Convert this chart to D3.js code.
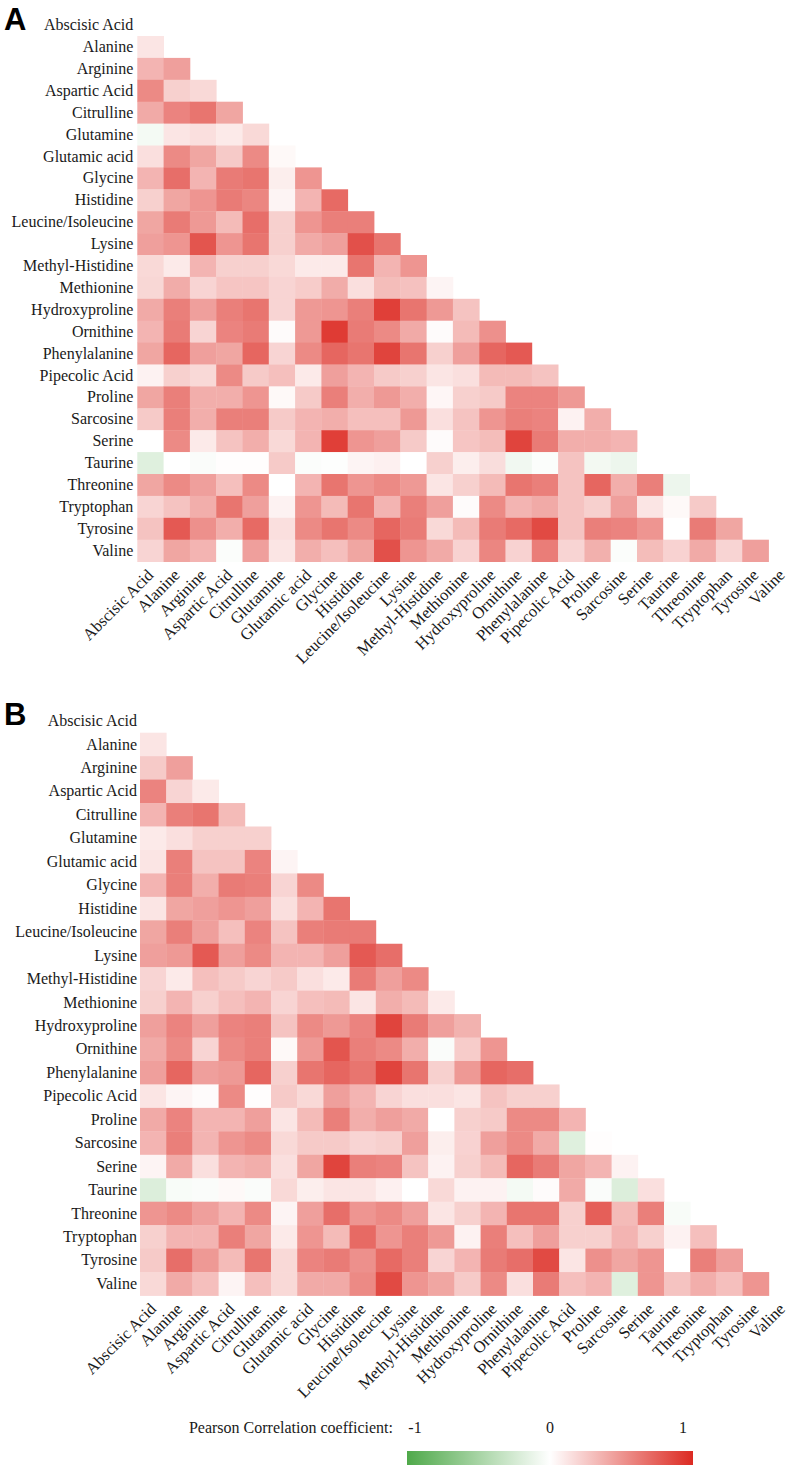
<!DOCTYPE html>
<html><head><meta charset="utf-8">
<script src="https://cdn.jsdelivr.net/npm/d3@7"></script>
<style>
body{margin:0;background:#fff}
svg{display:block}
svg text.serif, svg .serif text{font-family:"Liberation Serif", serif !important;}
</style>
</head><body><svg id="chart" width="789" height="1470"></svg>
<script>
const metabolites = ["Abscisic Acid","Alanine","Arginine","Aspartic Acid","Citrulline","Glutamine","Glutamic acid","Glycine","Histidine","Leucine/Isoleucine","Lysine","Methyl-Histidine","Methionine","Hydroxyproline","Ornithine","Phenylalanine","Pipecolic Acid","Proline","Sarcosine","Serine","Taurine","Threonine","Tryptophan","Tyrosine","Valine"];

// lower-triangle Pearson r, row i has columns 0..i-1
const corrA = [
  [],
  [0.12],
  [0.35,0.45],
  [0.55,0.22,0.18],
  [0.40,0.58,0.65,0.42],
  [-0.06,0.12,0.15,0.10,0.18],
  [0.15,0.55,0.42,0.25,0.55,0.03],
  [0.35,0.68,0.35,0.62,0.65,0.08,0.50],
  [0.22,0.42,0.50,0.62,0.57,0.05,0.35,0.70],
  [0.42,0.62,0.48,0.32,0.68,0.22,0.50,0.60,0.60],
  [0.45,0.50,0.80,0.50,0.65,0.22,0.40,0.45,0.82,0.65],
  [0.18,0.10,0.35,0.22,0.22,0.18,0.10,0.10,0.65,0.35,0.50],
  [0.19,0.39,0.20,0.27,0.27,0.20,0.24,0.39,0.15,0.31,0.29,0.05],
  [0.40,0.60,0.45,0.60,0.65,0.20,0.48,0.50,0.60,0.90,0.65,0.48,0.28],
  [0.35,0.62,0.20,0.58,0.62,0.02,0.48,0.92,0.62,0.55,0.40,0.02,0.32,0.52],
  [0.42,0.72,0.45,0.42,0.72,0.20,0.55,0.72,0.65,0.88,0.65,0.22,0.45,0.72,0.78],
  [0.06,0.22,0.18,0.55,0.25,0.30,0.10,0.45,0.35,0.25,0.22,0.12,0.15,0.32,0.32,0.28],
  [0.42,0.60,0.38,0.38,0.50,0.03,0.25,0.60,0.38,0.48,0.38,0.04,0.22,0.25,0.58,0.58,0.48],
  [0.25,0.60,0.38,0.60,0.60,0.25,0.35,0.38,0.30,0.30,0.48,0.15,0.28,0.50,0.60,0.58,0.06,0.38],
  [0.00,0.55,0.10,0.28,0.38,0.18,0.35,0.90,0.50,0.45,0.25,0.02,0.27,0.31,0.88,0.62,0.38,0.38,0.35],
  [-0.18,0.00,-0.03,0.01,0.01,0.25,-0.02,-0.01,0.05,0.07,0.00,0.22,0.08,0.16,-0.08,-0.02,0.28,-0.07,-0.10,0.00],
  [0.42,0.55,0.45,0.30,0.55,0.00,0.35,0.65,0.50,0.55,0.48,0.12,0.22,0.32,0.65,0.60,0.28,0.72,0.38,0.60,-0.10],
  [0.20,0.28,0.38,0.65,0.45,0.06,0.50,0.32,0.65,0.35,0.60,0.45,0.02,0.55,0.35,0.40,0.28,0.22,0.45,0.12,0.03,0.25],
  [0.28,0.78,0.52,0.38,0.70,0.15,0.55,0.65,0.55,0.72,0.62,0.18,0.32,0.62,0.70,0.85,0.28,0.60,0.58,0.50,0.00,0.62,0.42],
  [0.20,0.42,0.35,-0.02,0.45,0.12,0.38,0.30,0.42,0.82,0.50,0.40,0.21,0.57,0.21,0.61,0.20,0.37,-0.02,0.31,0.21,0.40,0.20,0.45]
];

const corrB = [
  [],
  [0.12],
  [0.25,0.45],
  [0.58,0.20,0.10],
  [0.35,0.60,0.65,0.32],
  [0.10,0.15,0.22,0.22,0.22],
  [0.12,0.60,0.28,0.28,0.58,0.05],
  [0.35,0.60,0.38,0.62,0.60,0.20,0.55],
  [0.12,0.42,0.45,0.50,0.45,0.15,0.35,0.65],
  [0.42,0.60,0.45,0.30,0.58,0.28,0.60,0.62,0.62],
  [0.45,0.48,0.78,0.45,0.55,0.35,0.35,0.45,0.78,0.68],
  [0.20,0.10,0.30,0.25,0.20,0.25,0.15,0.10,0.62,0.45,0.55],
  [0.22,0.35,0.22,0.30,0.35,0.20,0.30,0.32,0.12,0.38,0.32,0.10],
  [0.45,0.58,0.45,0.58,0.60,0.28,0.55,0.48,0.58,0.88,0.62,0.45,0.36],
  [0.40,0.55,0.20,0.55,0.60,0.03,0.48,0.80,0.60,0.55,0.38,-0.03,0.24,0.50],
  [0.45,0.72,0.45,0.48,0.72,0.22,0.65,0.72,0.65,0.88,0.65,0.22,0.48,0.72,0.68],
  [0.12,0.05,0.02,0.55,0.01,0.25,0.18,0.45,0.35,0.20,0.15,0.15,0.12,0.28,0.22,0.22],
  [0.40,0.58,0.35,0.35,0.45,0.12,0.32,0.60,0.38,0.45,0.40,0.00,0.22,0.25,0.55,0.55,0.35],
  [0.35,0.60,0.35,0.50,0.55,0.18,0.25,0.25,0.20,0.22,0.45,0.08,0.21,0.45,0.55,0.40,-0.18,0.01],
  [0.05,0.40,0.15,0.35,0.38,0.15,0.42,0.88,0.60,0.58,0.28,0.06,0.22,0.32,0.72,0.62,0.42,0.35,0.06],
  [-0.20,-0.04,-0.03,0.03,-0.03,0.18,0.08,0.12,0.12,0.07,0.00,0.18,0.06,0.06,-0.06,0.02,0.40,-0.03,-0.20,0.15],
  [0.50,0.55,0.45,0.35,0.55,0.05,0.45,0.68,0.50,0.55,0.45,0.12,0.22,0.35,0.65,0.65,0.22,0.75,0.32,0.60,-0.04],
  [0.22,0.35,0.35,0.60,0.42,0.10,0.50,0.32,0.70,0.50,0.60,0.48,0.06,0.60,0.30,0.45,0.22,0.22,0.35,0.22,0.06,0.30],
  [0.25,0.68,0.48,0.32,0.65,0.18,0.58,0.62,0.52,0.70,0.60,0.20,0.35,0.62,0.68,0.85,0.12,0.52,0.42,0.50,0.00,0.60,0.45],
  [0.18,0.40,0.30,0.05,0.30,0.18,0.40,0.40,0.55,0.85,0.50,0.42,0.25,0.55,0.15,0.62,0.30,0.35,-0.18,0.50,0.28,0.38,0.30,0.50]
];

const panelLabels = ["A","B"];
const legendTitle = "Pearson Correlation coefficient:";
const legendTicks = [-1, 0, 1];

const svg = d3.select("#chart");
const color = d3.scaleLinear().domain([-1,0,1]).range(["#4fa94a","#ffffff","#dc2a22"]);

const panels = [
  {corr: corrA, label: panelLabels[0], x0: 137.3, cw: 26.3, y0: 14.1, rh: 21.9, labelY: 30, rowPad: 4},
  {corr: corrB, label: panelLabels[1], x0: 140, cw: 26.2, y0: 709.25, rh: 23.45, labelY: 725, rowPad: 3}
];

panels.forEach(p => {
  const g = svg.append("g");
  const n = metabolites.length;
  const x = d3.scaleBand().domain(metabolites).range([p.x0, p.x0 + p.cw * n]);
  const y = d3.scaleBand().domain(metabolites).range([p.y0, p.y0 + p.rh * n]);
  const cells = [];
  p.corr.forEach((row, i) => row.forEach((v, j) => cells.push({r: metabolites[i], c: metabolites[j], v})));
  g.selectAll("rect.cell").data(cells).join("rect").attr("class","cell")
    .attr("x", d => x(d.c)).attr("y", d => y(d.r))
    .attr("width", x.bandwidth() + 0.4).attr("height", y.bandwidth() + 0.4)
    .attr("fill", d => color(d.v));

  const ya = g.append("g").attr("class", "serif").attr("transform", `translate(${p.x0},0)`)
    .call(d3.axisLeft(y).tickSize(0).tickPadding(p.rowPad));
  ya.select(".domain").remove();
  ya.attr("font-family", "Liberation Serif").attr("font-size", 16).attr("color", "#1a1a1a");

  const bottom = p.y0 + p.rh * n;
  const xa = g.append("g").attr("class", "serif").attr("transform", `translate(0,${bottom})`)
    .call(d3.axisBottom(x).tickSize(0));
  xa.select(".domain").remove();
  xa.attr("font-family", "Liberation Serif").attr("font-size", 16.5).attr("color", "#1a1a1a");
  xa.selectAll("text")
    .attr("x", 0).attr("y", 0).attr("dy", 0)
    .attr("text-anchor", "end")
    .attr("transform", "translate(4,14.5) rotate(-45)");

  svg.append("text").attr("x", 4).attr("y", p.labelY)
    .attr("font-family", "Liberation Sans").attr("font-weight", "bold")
    .attr("font-size", 31).attr("fill", "#000").text(p.label);
});

// legend
const lx = d3.scaleLinear().domain([-1, 1]).range([407, 693]);
const defs = svg.append("defs");
const grad = defs.append("linearGradient").attr("id", "lg");
d3.range(0, 1.0001, 0.1).forEach(t => {
  grad.append("stop").attr("offset", t).attr("stop-color", color(-1 + 2 * t));
});
svg.append("rect").attr("x", lx(-1)).attr("y", 1451).attr("width", lx(1) - lx(-1)).attr("height", 14)
  .attr("fill", "url(#lg)");
svg.append("text").attr("class", "serif").attr("x", 393).attr("y", 1433).attr("text-anchor", "end")
  .attr("font-size", 16).attr("fill", "#1a1a1a").text(legendTitle);
const tickPos = {"-1": lx(-1) + 8, "0": lx(0), "1": lx(1) - 10};
svg.selectAll("text.lt").data(legendTicks).join("text").attr("class", "lt serif")
  .attr("x", d => tickPos[String(d)]).attr("y", 1433).attr("text-anchor", "middle")
  .attr("font-size", 16).attr("fill", "#1a1a1a").text(d => d);
</script>
</body></html>
